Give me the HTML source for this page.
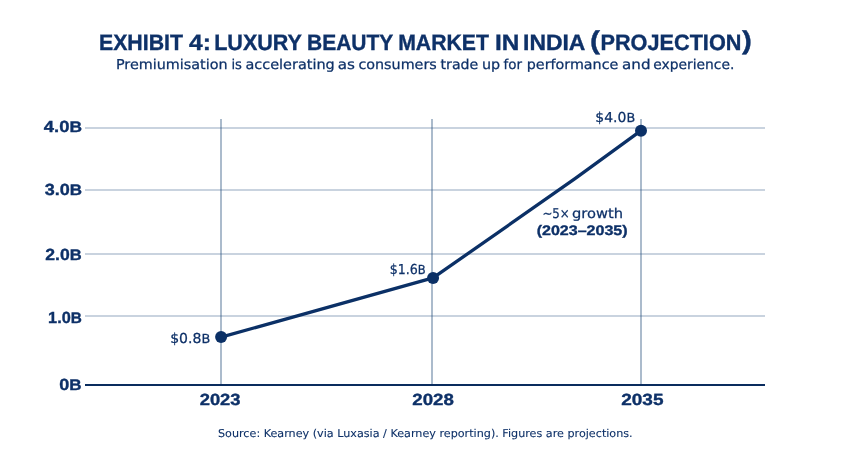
<!DOCTYPE html>
<html lang="en">
<head>
<meta charset="utf-8">
<title>Exhibit 4: Luxury Beauty Market in India (Projection)</title>
<style>
  html, body { margin: 0; padding: 0; background: #ffffff; }
  body { width: 850px; height: 450px; overflow: hidden; }
  svg { display: block; }
  text { font-family: "Liberation Sans", sans-serif; fill: #0e3168; text-rendering: geometricPrecision; }
  .b { font-weight: bold; stroke: #0e3168; stroke-width: 0.35; }
  .d { font-family: "DejaVu Sans", "Liberation Sans", sans-serif; stroke: #0e3168; stroke-width: 0.25; }
  .s { font-family: "DejaVu Sans", "Liberation Sans", sans-serif; stroke: #0e3168; stroke-width: 0.1; }
  .gh { stroke: #2d5480; stroke-opacity: 0.255; stroke-width: 1.9; fill: none; }
  .gv { stroke: #2d5480; stroke-opacity: 0.4; stroke-width: 2; fill: none; }
  .axis { stroke: #0a2c5e; stroke-width: 2.05; fill: none; }
  .line { stroke: #0b3066; stroke-width: 3.3; fill: none; stroke-linejoin: round; stroke-linecap: round; }
  .dot { fill: #0b3066; }
</style>
</head>
<body>
<svg width="850" height="450" viewBox="0 0 850 450">
  <rect x="0" y="0" width="850" height="450" fill="#ffffff"/>

  <!-- Grid -->
  <line class="gh" x1="85" y1="128.05" x2="765" y2="128.05"/>
  <line class="gh" x1="85" y1="190.05" x2="765" y2="190.05"/>
  <line class="gh" x1="85" y1="254.05" x2="765" y2="254.05"/>
  <line class="gh" x1="85" y1="316.05" x2="765" y2="316.05"/>
  <line class="gv" x1="221" y1="119" x2="221" y2="384"/>
  <line class="gv" x1="432" y1="119" x2="432" y2="384"/>
  <line class="gv" x1="641" y1="119" x2="641" y2="384"/>
  <line class="axis" x1="85" y1="385" x2="765" y2="385"/>

  <!-- Data line -->
  <polyline class="line" points="221.1,337.15 433.05,277.95 575,178.7 641,130.7"/>
  <circle class="dot" cx="221.1" cy="337.05" r="6"/>
  <circle class="dot" cx="433.05" cy="277.95" r="6"/>
  <circle class="dot" cx="641" cy="130.7" r="6"/>

  <!-- Text -->
  <text class="b" x="98.93" y="49.8" font-size="22.3" textLength="84.11" lengthAdjust="spacingAndGlyphs">EXHIBIT</text>
  <text class="b" x="189.03" y="49.8" font-size="22.3" textLength="21.87" lengthAdjust="spacingAndGlyphs">4:</text>
  <text class="b" x="214.21" y="49.8" font-size="22.3" textLength="87.79" lengthAdjust="spacingAndGlyphs">LUXURY</text>
  <text class="b" x="307.01" y="49.8" font-size="22.3" textLength="86.31" lengthAdjust="spacingAndGlyphs">BEAUTY</text>
  <text class="b" x="398.14" y="49.8" font-size="22.3" textLength="90.82" lengthAdjust="spacingAndGlyphs">MARKET</text>
  <text class="b" x="495.05" y="49.8" font-size="22.3" textLength="24.36" lengthAdjust="spacingAndGlyphs">IN</text>
  <text class="b" x="523.02" y="49.8" font-size="22.3" textLength="62.40" lengthAdjust="spacingAndGlyphs">INDIA</text>
  <text class="b" x="589.97" y="48.9" font-size="26" textLength="10.00" lengthAdjust="spacingAndGlyphs">(</text>
  <text class="b" x="600.52" y="49.8" font-size="22.3" textLength="140.88" lengthAdjust="spacingAndGlyphs">PROJECTION</text>
  <text class="b" x="742.02" y="48.9" font-size="26" textLength="9.84" lengthAdjust="spacingAndGlyphs">)</text>
  <text class="d" x="115.96" y="69.2" font-size="13.6" textLength="111.57" lengthAdjust="spacingAndGlyphs">Premiumisation</text>
  <text class="d" x="231.41" y="69.2" font-size="13.6" textLength="10.51" lengthAdjust="spacingAndGlyphs">is</text>
  <text class="d" x="245.45" y="69.2" font-size="13.6" textLength="89.30" lengthAdjust="spacingAndGlyphs">accelerating</text>
  <text class="d" x="337.80" y="69.2" font-size="13.6" textLength="17.20" lengthAdjust="spacingAndGlyphs">as</text>
  <text class="d" x="358.40" y="69.2" font-size="13.6" textLength="78.40" lengthAdjust="spacingAndGlyphs">consumers</text>
  <text class="d" x="440.52" y="69.2" font-size="13.6" textLength="37.75" lengthAdjust="spacingAndGlyphs">trade</text>
  <text class="d" x="482.00" y="69.2" font-size="13.6" textLength="18.20" lengthAdjust="spacingAndGlyphs">up</text>
  <text class="d" x="503.60" y="69.2" font-size="13.6" textLength="18.48" lengthAdjust="spacingAndGlyphs">for</text>
  <text class="d" x="526.79" y="69.2" font-size="13.6" textLength="91.55" lengthAdjust="spacingAndGlyphs">performance</text>
  <text class="d" x="622.10" y="69.2" font-size="13.6" textLength="28.50" lengthAdjust="spacingAndGlyphs">and</text>
  <text class="d" x="653.33" y="69.2" font-size="13.6" textLength="81.06" lengthAdjust="spacingAndGlyphs">experience.</text>
  <text class="b" x="43.89" y="131.7" font-size="16.1" textLength="38.15" lengthAdjust="spacingAndGlyphs">4.0<tspan font-size="15.2">B</tspan></text>
  <text class="b" x="44.70" y="194.9" font-size="16.1" textLength="37.30" lengthAdjust="spacingAndGlyphs">3.0<tspan font-size="15.2">B</tspan></text>
  <text class="b" x="45.34" y="259.6" font-size="16.1" textLength="36.38" lengthAdjust="spacingAndGlyphs">2.0<tspan font-size="15.2">B</tspan></text>
  <text class="b" x="48.08" y="322.7" font-size="16.1" textLength="33.76" lengthAdjust="spacingAndGlyphs">1.0<tspan font-size="15.2">B</tspan></text>
  <text class="b" x="59.26" y="389.7" font-size="16.1" textLength="22.31" lengthAdjust="spacingAndGlyphs">0<tspan font-size="15.2">B</tspan></text>
  <text class="b" x="199.70" y="404.9" font-size="16.2" textLength="40.80" lengthAdjust="spacingAndGlyphs">2023</text>
  <text class="b" x="412.27" y="404.9" font-size="16.2" textLength="41.57" lengthAdjust="spacingAndGlyphs">2028</text>
  <text class="b" x="621.21" y="404.9" font-size="16.2" textLength="42.27" lengthAdjust="spacingAndGlyphs">2035</text>
  <text class="d" x="170.19" y="342.6" font-size="13.7" textLength="40.04" lengthAdjust="spacingAndGlyphs">$0.8<tspan font-size="12.5">B</tspan></text>
  <text class="d" x="389.64" y="274" font-size="13.7" textLength="36.01" lengthAdjust="spacingAndGlyphs">$1.6<tspan font-size="12.5">B</tspan></text>
  <text class="d" x="595.30" y="121.8" font-size="13.7" textLength="39.90" lengthAdjust="spacingAndGlyphs">$4.0<tspan font-size="12.5">B</tspan></text>
  <text class="d" x="542.39" y="218.2" font-size="13.5" textLength="27.33" lengthAdjust="spacingAndGlyphs">~5×</text>
  <text class="d" x="571.96" y="218.2" font-size="13.5" textLength="51.00" lengthAdjust="spacingAndGlyphs">growth</text>
  <text class="b" x="536.70" y="234.9" font-size="13.8" textLength="90.90" lengthAdjust="spacingAndGlyphs">(2023–2035)</text>
  <text class="s" x="218.00" y="436.8" font-size="10.8" textLength="414.67" lengthAdjust="spacingAndGlyphs">Source: Kearney (via Luxasia / Kearney reporting). Figures are projections.</text>
</svg>
</body>
</html>
